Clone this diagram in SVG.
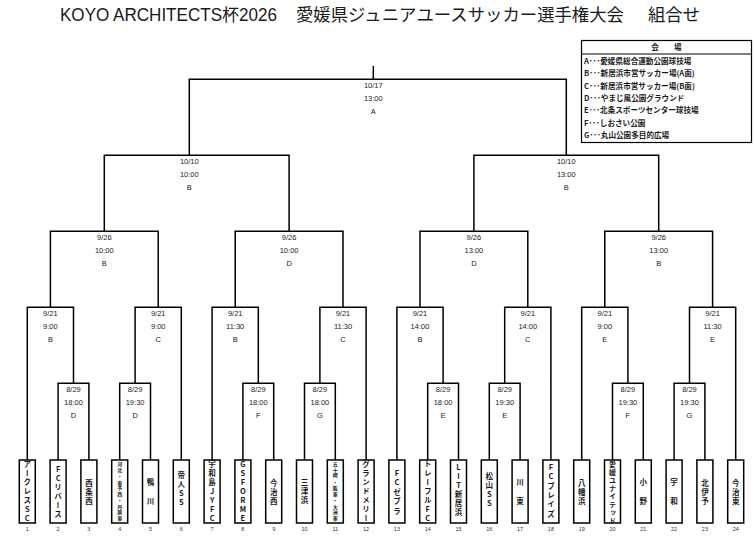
<svg xmlns="http://www.w3.org/2000/svg" width="755" height="536" viewBox="0 0 755 536">
<style>
text{font-family:"Liberation Sans","Noto Sans CJK JP",sans-serif;fill:#1a1a1a}
.title{font-size:17.5px}
.lbl{font-size:7.5px;text-anchor:middle}
.leg{font-size:7.6px;font-weight:bold;font-family:"Noto Sans CJK JP","Liberation Sans",sans-serif}
.box{fill:#fff;stroke:#000;stroke-width:1.5}
.ln{fill:none;stroke:#000;stroke-width:1.5}
.tn{font-family:"Noto Sans CJK JP","Liberation Sans",sans-serif;font-size:7.5px;font-weight:bold;writing-mode:vertical-rl;text-orientation:upright;text-anchor:middle}
.sm{font-family:"Noto Sans CJK JP","Liberation Sans",sans-serif;font-size:5px;font-weight:bold;text-anchor:middle}
.num{font-size:5.5px;text-anchor:middle;fill:#333}
</style>
<rect width="755" height="536" fill="#fff"/>
<text class="title" y="21"><tspan x="60" textLength="217" lengthAdjust="spacingAndGlyphs">KOYO ARCHITECTS杯2026</tspan><tspan x="296" textLength="328" lengthAdjust="spacingAndGlyphs">愛媛県ジュニアユースサッカー選手権大会</tspan><tspan x="648" textLength="52" lengthAdjust="spacingAndGlyphs">組合せ</tspan></text>

<g id="legend">
<rect x="581.5" y="40.5" width="170" height="102" fill="#fff" stroke="#000" stroke-width="1.2"/>
<line x1="581.5" y1="54" x2="751.5" y2="54" stroke="#000" stroke-width="1"/>
<text class="leg" x="666.5" y="50" text-anchor="middle">会　　場</text>
<text class="leg" x="584" y="63.5">A･･･愛媛県総合運動公園球技場</text>
<text class="leg" x="584" y="76">B･･･新居浜市営サッカー場(A面)</text>
<text class="leg" x="584" y="88.5">C･･･新居浜市営サッカー場(B面)</text>
<text class="leg" x="584" y="100.5">D･･･やまじ風公園グラウンド</text>
<text class="leg" x="584" y="113">E･･･北条スポーツセンター球技場</text>
<text class="leg" x="584" y="125.5">F･･･しおさい公園</text>
<text class="leg" x="584" y="137.5">G･･･丸山公園多目的広場</text>
</g>

<g id="connectors" class="ln">
<path d="M373.3 66V79.3"/>
<path d="M189.3 155.3V79.3H566.3V155.3"/>
<path d="M104.3 231.3V155.3H289.1V231.3"/>
<path d="M473.9 231.3V155.3H658.7V231.3"/>
<path d="M50.4 307.3V231.3H158.2V307.3"/>
<path d="M235.2 307.3V231.3H343V307.3"/>
<path d="M420 307.3V231.3H527.8V307.3"/>
<path d="M604.8 307.3V231.3H712.6V307.3"/>
<path d="M27.3 460V307.3H73.5V383.3"/>
<path d="M135.1 383.3V307.3H181.3V460"/>
<path d="M212.1 460V307.3H258.3V383.3"/>
<path d="M319.9 383.3V307.3H366.1V460"/>
<path d="M396.9 460V307.3H443.1V383.3"/>
<path d="M504.7 383.3V307.3H550.9V460"/>
<path d="M581.7 460V307.3H627.9V383.3"/>
<path d="M689.5 383.3V307.3H735.7V460"/>
<path d="M58.1 460V383.3H88.9V460"/>
<path d="M119.7 460V383.3H150.5V460"/>
<path d="M242.9 460V383.3H273.7V460"/>
<path d="M304.5 460V383.3H335.3V460"/>
<path d="M427.7 460V383.3H458.5V460"/>
<path d="M489.3 460V383.3H520.1V460"/>
<path d="M612.5 460V383.3H643.3V460"/>
<path d="M674.1 460V383.3H704.9V460"/>
</g>

<g id="match-final"><text class="lbl" x="373.3" y="88">10/17</text><text class="lbl" x="373.3" y="101">13:00</text><text class="lbl" x="373.3" y="113.5">A</text></g>
<g id="match-sf1"><text class="lbl" x="189.3" y="164">10/10</text><text class="lbl" x="189.3" y="177">10:00</text><text class="lbl" x="189.3" y="189.5">B</text></g>
<g id="match-sf2"><text class="lbl" x="566.3" y="164">10/10</text><text class="lbl" x="566.3" y="177">13:00</text><text class="lbl" x="566.3" y="189.5">B</text></g>
<g id="match-qf1"><text class="lbl" x="104.3" y="240">9/26</text><text class="lbl" x="104.3" y="253">10:00</text><text class="lbl" x="104.3" y="265.5">B</text></g>
<g id="match-qf2"><text class="lbl" x="289.1" y="240">9/26</text><text class="lbl" x="289.1" y="253">10:00</text><text class="lbl" x="289.1" y="265.5">D</text></g>
<g id="match-qf3"><text class="lbl" x="473.9" y="240">9/26</text><text class="lbl" x="473.9" y="253">13:00</text><text class="lbl" x="473.9" y="265.5">D</text></g>
<g id="match-qf4"><text class="lbl" x="658.7" y="240">9/26</text><text class="lbl" x="658.7" y="253">13:00</text><text class="lbl" x="658.7" y="265.5">B</text></g>
<g id="match-r16-1"><text class="lbl" x="50.4" y="316">9/21</text><text class="lbl" x="50.4" y="329">9:00</text><text class="lbl" x="50.4" y="341.5">B</text></g>
<g id="match-r16-2"><text class="lbl" x="158.2" y="316">9/21</text><text class="lbl" x="158.2" y="329">9:00</text><text class="lbl" x="158.2" y="341.5">C</text></g>
<g id="match-r16-3"><text class="lbl" x="235.2" y="316">9/21</text><text class="lbl" x="235.2" y="329">11:30</text><text class="lbl" x="235.2" y="341.5">B</text></g>
<g id="match-r16-4"><text class="lbl" x="343" y="316">9/21</text><text class="lbl" x="343" y="329">11:30</text><text class="lbl" x="343" y="341.5">C</text></g>
<g id="match-r16-5"><text class="lbl" x="420" y="316">9/21</text><text class="lbl" x="420" y="329">14:00</text><text class="lbl" x="420" y="341.5">B</text></g>
<g id="match-r16-6"><text class="lbl" x="527.8" y="316">9/21</text><text class="lbl" x="527.8" y="329">14:00</text><text class="lbl" x="527.8" y="341.5">C</text></g>
<g id="match-r16-7"><text class="lbl" x="604.8" y="316">9/21</text><text class="lbl" x="604.8" y="329">9:00</text><text class="lbl" x="604.8" y="341.5">E</text></g>
<g id="match-r16-8"><text class="lbl" x="712.6" y="316">9/21</text><text class="lbl" x="712.6" y="329">11:30</text><text class="lbl" x="712.6" y="341.5">E</text></g>
<g id="match-r32-1"><text class="lbl" x="73.5" y="392">8/29</text><text class="lbl" x="73.5" y="405">18:00</text><text class="lbl" x="73.5" y="417.5">D</text></g>
<g id="match-r32-2"><text class="lbl" x="135.1" y="392">8/29</text><text class="lbl" x="135.1" y="405">19:30</text><text class="lbl" x="135.1" y="417.5">D</text></g>
<g id="match-r32-3"><text class="lbl" x="258.3" y="392">8/29</text><text class="lbl" x="258.3" y="405">18:00</text><text class="lbl" x="258.3" y="417.5">F</text></g>
<g id="match-r32-4"><text class="lbl" x="319.9" y="392">8/29</text><text class="lbl" x="319.9" y="405">18:00</text><text class="lbl" x="319.9" y="417.5">G</text></g>
<g id="match-r32-5"><text class="lbl" x="443.1" y="392">8/29</text><text class="lbl" x="443.1" y="405">18:00</text><text class="lbl" x="443.1" y="417.5">E</text></g>
<g id="match-r32-6"><text class="lbl" x="504.7" y="392">8/29</text><text class="lbl" x="504.7" y="405">19:30</text><text class="lbl" x="504.7" y="417.5">E</text></g>
<g id="match-r32-7"><text class="lbl" x="627.9" y="392">8/29</text><text class="lbl" x="627.9" y="405">19:30</text><text class="lbl" x="627.9" y="417.5">F</text></g>
<g id="match-r32-8"><text class="lbl" x="689.5" y="392">8/29</text><text class="lbl" x="689.5" y="405">19:30</text><text class="lbl" x="689.5" y="417.5">G</text></g>

<g id="team-1"><rect class="box" x="19.3" y="460" width="16" height="63"/><text class="tn" x="27.3" y="464.5 473.5 482.5 491.5 500.5 509.5 518.5">アークレスSC</text><text class="num" x="27.3" y="531">1</text></g>
<g id="team-2"><rect class="box" x="50.1" y="460" width="16" height="63"/><text class="tn" x="58.1" y="469.3 478.3 487.3 496.3 505.3 514.3">FCリバース</text><text class="num" x="58.1" y="531">2</text></g>
<g id="team-3"><rect class="box" x="80.9" y="460" width="16" height="63"/><text class="tn" x="88.9" y="483 492 501">西条西</text><text class="num" x="88.9" y="531">3</text></g>
<g id="team-4"><rect class="box" x="111.7" y="460" width="16" height="63"/><text class="sm" x="119.7 119.7 119.7 119.7 119.7 119.7 119.7 119.7 119.7 119.7" y="466 471.5 478 484.5 490 495.5 502 508.5 514 519.5">河北・東予西・丹原東</text><text class="num" x="119.7" y="531">4</text></g>
<g id="team-5"><rect class="box" x="142.5" y="460" width="16" height="63"/><text class="tn" x="150.5" y="482 501">鴨川</text><text class="num" x="150.5" y="531">5</text></g>
<g id="team-6"><rect class="box" x="173.3" y="460" width="16" height="63"/><text class="tn" x="181.3" y="475 484 493 502">帝人SS</text><text class="num" x="181.3" y="531">6</text></g>
<g id="team-7"><rect class="box" x="204.1" y="460" width="16" height="63"/><text class="tn" x="212.1" y="464.5 473.5 482.5 491.5 500.5 509.5 518.5">宇和島JYFC</text><text class="num" x="212.1" y="531">7</text></g>
<g id="team-8"><rect class="box" x="234.9" y="460" width="16" height="63"/><text class="tn" x="242.9" y="464.5 473.5 482.5 491.5 500.5 509.5 518.5">GSFORME</text><text class="num" x="242.9" y="531">8</text></g>
<g id="team-9"><rect class="box" x="265.7" y="460" width="16" height="63"/><text class="tn" x="273.7" y="483 492 501">今治西</text><text class="num" x="273.7" y="531">9</text></g>
<g id="team-10"><rect class="box" x="296.5" y="460" width="16" height="63"/><text class="tn" x="304.5" y="482 491 500">三津浜</text><text class="num" x="304.5" y="531">10</text></g>
<g id="team-11"><rect class="box" x="327.3" y="460" width="16" height="63"/><text class="sm" x="335.3 335.3 335.3 335.3 335.3 335.3 335.3 335.3 335.3 335.3" y="466 471.5 477 483.5 490 495.5 502 508.5 514 519.5">五十崎・肱東・大洲東</text><text class="num" x="335.3" y="531">11</text></g>
<g id="team-12"><rect class="box" x="358.1" y="460" width="16" height="63"/><text class="tn" x="366.1" y="464.5 473.5 482.5 491.5 500.5 509.5 518.5">グランドメリー</text><text class="num" x="366.1" y="531">12</text></g>
<g id="team-13"><rect class="box" x="388.9" y="460" width="16" height="63"/><text class="tn" x="396.9" y="473 482.5 492 501.5 511">FCゼブラ</text><text class="num" x="396.9" y="531">13</text></g>
<g id="team-14"><rect class="box" x="419.7" y="460" width="16" height="63"/><text class="tn" x="427.7" y="464.5 473.5 482.5 491.5 500.5 509.5 518.5">トレーフルFC</text><text class="num" x="427.7" y="531">14</text></g>
<g id="team-15"><rect class="box" x="450.5" y="460" width="16" height="63"/><text class="tn" x="458.5" y="467 476 485 494.5 503.5 512.5">LIT新居浜</text><text class="num" x="458.5" y="531">15</text></g>
<g id="team-16"><rect class="box" x="481.3" y="460" width="16" height="63"/><text class="tn" x="489.3" y="476 485 494 503">松山SS</text><text class="num" x="489.3" y="531">16</text></g>
<g id="team-17"><rect class="box" x="512.1" y="460" width="16" height="63"/><text class="tn" x="520.1" y="482 501">川東</text><text class="num" x="520.1" y="531">17</text></g>
<g id="team-18"><rect class="box" x="542.9" y="460" width="16" height="63"/><text class="tn" x="550.9" y="467 476.4 485.8 495.2 504.6 514">FCブレイズ</text><text class="num" x="550.9" y="531">18</text></g>
<g id="team-19"><rect class="box" x="573.7" y="460" width="16" height="63"/><text class="tn" x="581.7" y="483 492 501">八幡浜</text><text class="num" x="581.7" y="531">19</text></g>
<g id="team-20"><rect class="box" x="604.5" y="460" width="16" height="63"/><text class="tn" x="612.5" y="464.5 472.5 480.5 488.5 496.5 504.5 512.5 520" style="font-size:7px">愛媛ユナイテッド</text><text class="num" x="612.5" y="531">20</text></g>
<g id="team-21"><rect class="box" x="635.3" y="460" width="16" height="63"/><text class="tn" x="643.3" y="482 501">小野</text><text class="num" x="643.3" y="531">21</text></g>
<g id="team-22"><rect class="box" x="666.1" y="460" width="16" height="63"/><text class="tn" x="674.1" y="482 501">宇和</text><text class="num" x="674.1" y="531">22</text></g>
<g id="team-23"><rect class="box" x="696.9" y="460" width="16" height="63"/><text class="tn" x="704.9" y="483 492 501">北伊予</text><text class="num" x="704.9" y="531">23</text></g>
<g id="team-24"><rect class="box" x="727.7" y="460" width="16" height="63"/><text class="tn" x="735.7" y="483 492 501">今治東</text><text class="num" x="735.7" y="531">24</text></g>
</svg>
